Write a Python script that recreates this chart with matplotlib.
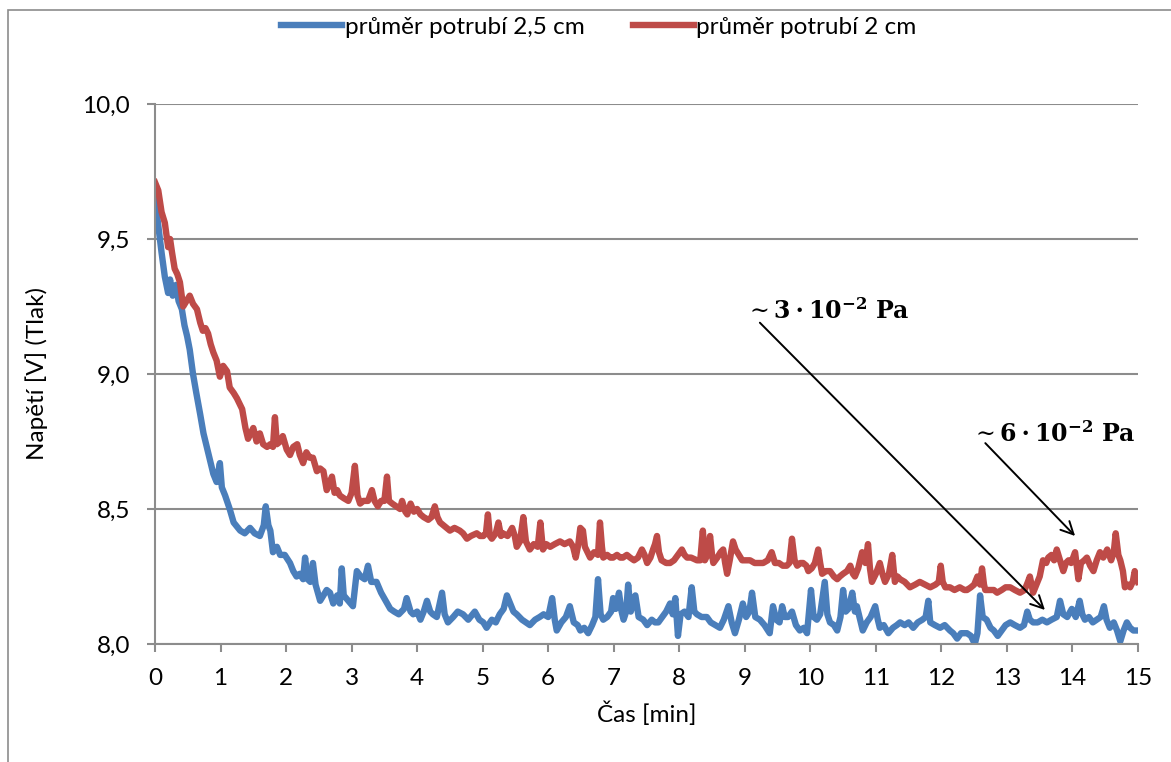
import matplotlib
matplotlib.use("Agg")
import matplotlib.pyplot as plt

# data (time in min, voltage in V)
t_25 = [0.00, 0.05, 0.10, 0.15, 0.20, 0.23, 0.27, 0.32, 0.36, 0.41, 0.45, 0.49, 0.53, 0.58, 0.63,
        0.69, 0.74, 0.79, 0.84, 0.89, 0.94, 0.99, 1.02, 1.07, 1.14, 1.20, 1.30, 1.37, 1.45, 1.52,
        1.60, 1.66, 1.69, 1.73, 1.76, 1.80, 1.86, 1.91, 1.98, 2.06, 2.11, 2.16, 2.21, 2.26, 2.29,
        2.33, 2.37, 2.41, 2.45, 2.52, 2.57, 2.62, 2.67, 2.72, 2.78, 2.82, 2.85, 2.88, 2.95, 3.02,
        3.08, 3.14, 3.20, 3.25, 3.30, 3.38, 3.45, 3.52, 3.59, 3.65, 3.72, 3.80, 3.84, 3.90, 3.94,
        4.00, 4.05, 4.10, 4.15, 4.20, 4.24, 4.30, 4.38, 4.42, 4.47, 4.55, 4.62, 4.70, 4.78, 4.88,
        4.95, 5.01, 5.06, 5.14, 5.20, 5.26, 5.32, 5.37, 5.42, 5.47, 5.52, 5.60, 5.66, 5.72, 5.80,
        5.87, 5.93, 6.00, 6.06, 6.10, 6.13, 6.20, 6.27, 6.33, 6.39, 6.45, 6.49, 6.55, 6.61, 6.67,
        6.72, 6.76, 6.80, 6.84, 6.90, 6.96, 6.99, 7.03, 7.08, 7.12, 7.15, 7.19, 7.22, 7.26, 7.33,
        7.38, 7.45, 7.51, 7.58, 7.63, 7.68, 7.74, 7.80, 7.86, 7.90, 7.94, 7.98, 8.02, 8.08, 8.14,
        8.19, 8.23, 8.27, 8.34, 8.42, 8.48, 8.55, 8.62, 8.68, 8.75, 8.80, 8.85, 8.91, 8.97, 9.02,
        9.07, 9.11, 9.16, 9.23, 9.30, 9.38, 9.43, 9.48, 9.53, 9.57, 9.61, 9.66, 9.72, 9.78, 9.84,
        9.90, 9.95, 10.01, 10.05, 10.10, 10.15, 10.22, 10.26, 10.30, 10.36, 10.41, 10.46, 10.50,
        10.54, 10.58, 10.64, 10.68, 10.71, 10.76, 10.80, 10.86, 10.92, 10.99, 11.03, 11.06, 11.12,
        11.19, 11.26, 11.32, 11.37, 11.44, 11.50, 11.57, 11.64, 11.71, 11.76, 11.80, 11.83, 11.90,
        11.98, 12.05, 12.13, 12.18, 12.24, 12.30, 12.39, 12.45, 12.51, 12.55, 12.59, 12.63, 12.69,
        12.75, 12.80, 12.86, 12.92, 12.98, 13.05, 13.12, 13.20, 13.26, 13.31, 13.35, 13.40, 13.47,
        13.54, 13.61, 13.68, 13.76, 13.81, 13.86, 13.92, 13.99, 14.05, 14.11, 14.15, 14.19, 14.25,
        14.31, 14.37, 14.43, 14.48, 14.52, 14.57, 14.63, 14.68, 14.73, 14.78, 14.83, 14.88, 14.93,
        15.00]
u_25 = [9.65, 9.55, 9.45, 9.36, 9.30, 9.35, 9.29, 9.33, 9.27, 9.24, 9.18, 9.14, 9.09, 9.00, 8.93,
        8.85, 8.78, 8.73, 8.68, 8.63, 8.60, 8.67, 8.58, 8.55, 8.50, 8.45, 8.42, 8.41, 8.43, 8.41,
        8.40, 8.44, 8.51, 8.44, 8.42, 8.34, 8.36, 8.33, 8.33, 8.30, 8.27, 8.25, 8.26, 8.24, 8.32,
        8.24, 8.23, 8.30, 8.22, 8.16, 8.18, 8.20, 8.19, 8.15, 8.18, 8.15, 8.28, 8.18, 8.16, 8.14,
        8.27, 8.25, 8.24, 8.29, 8.23, 8.23, 8.19, 8.16, 8.13, 8.12, 8.11, 8.13, 8.17, 8.12, 8.11,
        8.12, 8.09, 8.12, 8.16, 8.12, 8.11, 8.10, 8.19, 8.11, 8.08, 8.10, 8.12, 8.11, 8.09, 8.12,
        8.09, 8.08, 8.06, 8.09, 8.08, 8.11, 8.13, 8.18, 8.15, 8.12, 8.11, 8.09, 8.08, 8.07, 8.09,
        8.10, 8.11, 8.10, 8.17, 8.09, 8.05, 8.08, 8.10, 8.14, 8.08, 8.07, 8.05, 8.06, 8.04, 8.07,
        8.10, 8.24, 8.11, 8.09, 8.10, 8.12, 8.17, 8.13, 8.19, 8.12, 8.09, 8.12, 8.22, 8.12, 8.18,
        8.10, 8.09, 8.07, 8.09, 8.08, 8.08, 8.10, 8.12, 8.15, 8.11, 8.17, 8.03, 8.11, 8.12, 8.10,
        8.21, 8.12, 8.11, 8.10, 8.10, 8.08, 8.07, 8.06, 8.09, 8.14, 8.08, 8.04, 8.09, 8.15, 8.10,
        8.12, 8.19, 8.10, 8.09, 8.07, 8.04, 8.14, 8.09, 8.08, 8.14, 8.10, 8.10, 8.12, 8.07, 8.05,
        8.06, 8.04, 8.20, 8.10, 8.09, 8.11, 8.23, 8.11, 8.08, 8.07, 8.05, 8.10, 8.20,
        8.12, 8.13, 8.19, 8.12, 8.14, 8.09, 8.05, 8.08, 8.10, 8.14, 8.09, 8.06, 8.07,
        8.04, 8.06, 8.07, 8.08, 8.07, 8.08, 8.06, 8.08, 8.09, 8.10, 8.16, 8.08, 8.07,
        8.06, 8.07, 8.05, 8.04, 8.02, 8.04, 8.04, 8.03, 8.00, 8.04, 8.18, 8.10, 8.09,
        8.06, 8.05, 8.03, 8.05, 8.07, 8.08, 8.07, 8.06, 8.07, 8.12, 8.09, 8.08, 8.08,
        8.09, 8.08, 8.09, 8.10, 8.16, 8.11, 8.10, 8.13, 8.10, 8.16, 8.11, 8.09, 8.10,
        8.08, 8.09, 8.10, 8.14, 8.09, 8.06, 8.08, 8.05, 8.01, 8.05, 8.08, 8.06, 8.05,
        8.05]

t_2 = [0.00, 0.05, 0.10, 0.15, 0.20, 0.23, 0.26, 0.30, 0.34, 0.38, 0.43, 0.48, 0.53, 0.58, 0.64,
       0.69, 0.73, 0.77, 0.81, 0.85, 0.89, 0.94, 0.99, 1.04, 1.10, 1.14, 1.20, 1.25, 1.29, 1.33,
       1.38, 1.42, 1.46, 1.50, 1.55, 1.60, 1.65, 1.71, 1.76, 1.80, 1.83, 1.86, 1.91, 1.95, 2.01,
       2.06, 2.11, 2.17, 2.21, 2.26, 2.31, 2.36, 2.41, 2.47, 2.52, 2.57, 2.62, 2.66, 2.70, 2.74,
       2.78, 2.82, 2.88, 2.95, 3.00, 3.05, 3.09, 3.13, 3.18, 3.25, 3.31, 3.35, 3.40, 3.45, 3.50,
       3.54, 3.57, 3.62, 3.68, 3.74, 3.77, 3.82, 3.85, 3.90, 3.95, 4.00, 4.05, 4.10, 4.17, 4.22,
       4.27, 4.31, 4.35, 4.40, 4.45, 4.50, 4.57, 4.65, 4.70, 4.76, 4.82, 4.91, 4.96, 5.01, 5.05,
       5.08, 5.11, 5.14, 5.20, 5.24, 5.28, 5.31, 5.38, 5.45, 5.49, 5.52, 5.57, 5.62, 5.66, 5.72,
       5.78, 5.84, 5.88, 5.92, 5.97, 6.03, 6.10, 6.18, 6.25, 6.33, 6.38, 6.42, 6.46, 6.49, 6.53,
       6.56, 6.60, 6.64, 6.70, 6.76, 6.79, 6.82, 6.84, 6.90, 6.95, 6.99, 7.05, 7.10, 7.14, 7.20,
       7.25, 7.31, 7.37, 7.43, 7.47, 7.51, 7.56, 7.60, 7.63, 7.66, 7.69, 7.73, 7.80, 7.86, 7.92,
       7.98, 8.04, 8.08, 8.12, 8.18, 8.27, 8.32, 8.36, 8.39, 8.43, 8.47, 8.50, 8.52, 8.58, 8.63,
       8.67, 8.70, 8.73, 8.77, 8.82, 8.86, 8.91, 8.96, 9.02, 9.08, 9.15, 9.22, 9.28, 9.35, 9.41,
       9.46, 9.52, 9.58, 9.64, 9.68, 9.72, 9.76, 9.80, 9.85, 9.89, 9.94, 9.97, 10.02, 10.07,
       10.12, 10.15, 10.18, 10.24, 10.30, 10.36, 10.41, 10.45, 10.50, 10.56, 10.61, 10.65, 10.68,
       10.73, 10.79, 10.84, 10.88, 10.91, 10.94, 11.00, 11.06, 11.10, 11.14, 11.20, 11.25, 11.29,
       11.33, 11.37, 11.44, 11.52, 11.60, 11.67, 11.75, 11.83, 11.91, 11.96, 11.99, 12.02, 12.06,
       12.13, 12.20, 12.28, 12.35, 12.39, 12.45, 12.50, 12.55, 12.59, 12.62, 12.65, 12.67, 12.74,
       12.80, 12.85, 12.92, 12.98, 13.05, 13.12, 13.20, 13.27, 13.32, 13.35, 13.40, 13.45, 13.50,
       13.55, 13.60, 13.63, 13.68, 13.72, 13.76, 13.81, 13.86, 13.90, 13.94, 13.98, 14.04, 14.09,
       14.13, 14.18, 14.22, 14.27, 14.32, 14.37, 14.42, 14.47, 14.53, 14.59, 14.63, 14.66, 14.70,
       14.73, 14.77, 14.80, 14.85, 14.88, 14.92, 14.95, 15.00]
u_2 = [9.71, 9.68, 9.60, 9.56, 9.47, 9.50, 9.45, 9.39, 9.37, 9.34, 9.25, 9.27, 9.29, 9.26, 9.24,
       9.19, 9.16, 9.17, 9.15, 9.11, 9.08, 9.05, 8.99, 9.03, 9.01, 8.95, 8.93, 8.91, 8.89, 8.87,
       8.80, 8.76, 8.78, 8.80, 8.75, 8.78, 8.74, 8.73, 8.74, 8.73, 8.84, 8.74, 8.75, 8.77, 8.72,
       8.70, 8.73, 8.74, 8.70, 8.67, 8.71, 8.69, 8.69, 8.64, 8.65, 8.64, 8.57, 8.59, 8.62, 8.56,
       8.57, 8.55, 8.54, 8.53, 8.56, 8.66, 8.55, 8.52, 8.53, 8.53, 8.57, 8.53, 8.51, 8.53, 8.53,
       8.62, 8.53, 8.52, 8.51, 8.50, 8.53, 8.49, 8.48, 8.52, 8.49, 8.50, 8.48, 8.47, 8.46, 8.47,
       8.51, 8.47, 8.45, 8.44, 8.43, 8.42, 8.43, 8.42, 8.41, 8.39, 8.40, 8.41, 8.40, 8.40, 8.41,
       8.48, 8.40, 8.39, 8.41, 8.45, 8.40, 8.41, 8.40, 8.43, 8.40, 8.36, 8.38, 8.47, 8.38, 8.35,
       8.37, 8.36, 8.45, 8.35, 8.37, 8.36, 8.37, 8.38, 8.37, 8.38, 8.36, 8.32, 8.37, 8.43, 8.42,
       8.36, 8.34, 8.32, 8.34, 8.33, 8.45, 8.36, 8.32, 8.33, 8.32, 8.32, 8.33, 8.32, 8.32, 8.33,
       8.32, 8.31, 8.32, 8.35, 8.33, 8.30, 8.32, 8.35, 8.37, 8.40, 8.34, 8.31, 8.30, 8.30, 8.31,
       8.33, 8.35, 8.33, 8.32, 8.32, 8.31, 8.31, 8.42, 8.31, 8.33, 8.40, 8.33, 8.30, 8.32, 8.34,
       8.35, 8.30, 8.26, 8.31, 8.38, 8.35, 8.33, 8.31, 8.31, 8.31, 8.30, 8.30, 8.30, 8.31, 8.34,
       8.30, 8.30, 8.29, 8.29, 8.30, 8.39, 8.31, 8.29, 8.30, 8.30, 8.29, 8.27, 8.28, 8.30,
       8.35, 8.30, 8.26, 8.27, 8.27, 8.25, 8.24, 8.25, 8.26, 8.27, 8.29, 8.26, 8.25,
       8.28, 8.34, 8.30, 8.37, 8.28, 8.23, 8.26, 8.30, 8.26, 8.23, 8.26, 8.33, 8.23,
       8.25, 8.24, 8.23, 8.21, 8.22, 8.23, 8.22, 8.21, 8.22, 8.23, 8.29, 8.23, 8.21,
       8.21, 8.20, 8.21, 8.20, 8.20, 8.21, 8.22, 8.25, 8.22, 8.28, 8.22, 8.20, 8.20,
       8.20, 8.19, 8.20, 8.21, 8.21, 8.20, 8.19, 8.20, 8.23, 8.25, 8.19, 8.22, 8.25,
       8.31, 8.30, 8.32, 8.33, 8.31, 8.35, 8.31, 8.27, 8.30, 8.31, 8.30, 8.34, 8.24,
       8.30, 8.31, 8.32, 8.29, 8.27, 8.31, 8.34, 8.32, 8.35, 8.31, 8.34, 8.41, 8.33,
       8.31, 8.27, 8.21, 8.22, 8.21, 8.23, 8.27, 8.23]

x_ticks = list(range(0, 16))
y_ticks = [8.0, 8.5, 9.0, 9.5, 10.0]
y_ticklabels = ['8,0', '8,5', '9,0', '9,5', '10,0']

plt.rcParams['font.family'] = ['Lato', 'DejaVu Sans']
plt.rcParams['mathtext.fontset'] = 'dejavuserif'

W, H = 1171, 762
fig = plt.figure(figsize=(W / 100, H / 100), dpi=100)
ax = fig.add_axes([155 / W, 1 - 644 / H, (1138 - 155) / W, (644 - 104) / H])

# outer chart frame (cut by the image edge on right and bottom)
fig.add_artist(plt.Rectangle((8 / W, -0.1), 1.2, 1 - 10 / H + 0.1, transform=fig.transFigure,
                             fill=False, ec='#8c8c8c', lw=1.2))

gray = '#8c8c8c'
fs = 17.5
ax.plot(t_25, u_25, color='#4a7ebb', lw=4.6, label='průměr potrubí 2,5 cm', solid_joinstyle='round')
ax.plot(t_2, u_2, color='#be4b48', lw=4.6, label='průměr potrubí 2 cm', solid_joinstyle='round')

ax.set_xlim(0, 15)
ax.set_ylim(8.0, 10.0)
ax.set_xticks(x_ticks)
ax.set_yticks(y_ticks)
ax.set_yticklabels(y_ticklabels)
ax.yaxis.grid(True, color=gray, lw=1.5)
ax.set_axisbelow(True)
for s in ['top', 'right']:
    ax.spines[s].set_visible(False)
for s in ['left', 'bottom']:
    ax.spines[s].set_color(gray)
    ax.spines[s].set_linewidth(1.5)
ax.tick_params(axis='both', colors=gray, labelcolor='black', labelsize=fs, width=1.5, length=6)
ax.tick_params(axis='y', pad=12)
ax.tick_params(axis='x', pad=11)

ax.set_xlabel('Čas [min]', fontsize=fs, labelpad=9)
ax.set_ylabel('Napětí [V] (Tlak)', fontsize=fs, labelpad=25)

fig.legend(loc='center', bbox_to_anchor=(0.5115, 1 - 27 / H), ncol=2, frameon=False,
           fontsize=fs, handlelength=2.5, handletextpad=0.1, columnspacing=2.0)

# pressure annotations
ax.text(9.0, 9.237, r'$\sim\mathbf{3\cdot10^{-2}\ Pa}$', fontsize=17, ha='left', va='center')
ax.annotate('', xy=(13.58, 8.126), xytext=(9.23, 9.19),
            arrowprops=dict(arrowstyle='->,head_length=0.9,head_width=0.45', lw=1.4, color='black',
                            shrinkA=0, shrinkB=0))
ax.text(12.45, 8.78, r'$\sim\mathbf{6\cdot10^{-2}\ Pa}$', fontsize=17, ha='left', va='center')
ax.annotate('', xy=(14.04, 8.40), xytext=(12.67, 8.744),
            arrowprops=dict(arrowstyle='->,head_length=0.9,head_width=0.45', lw=1.4, color='black',
                            shrinkA=0, shrinkB=0))

fig.savefig('out.png', dpi=100)
